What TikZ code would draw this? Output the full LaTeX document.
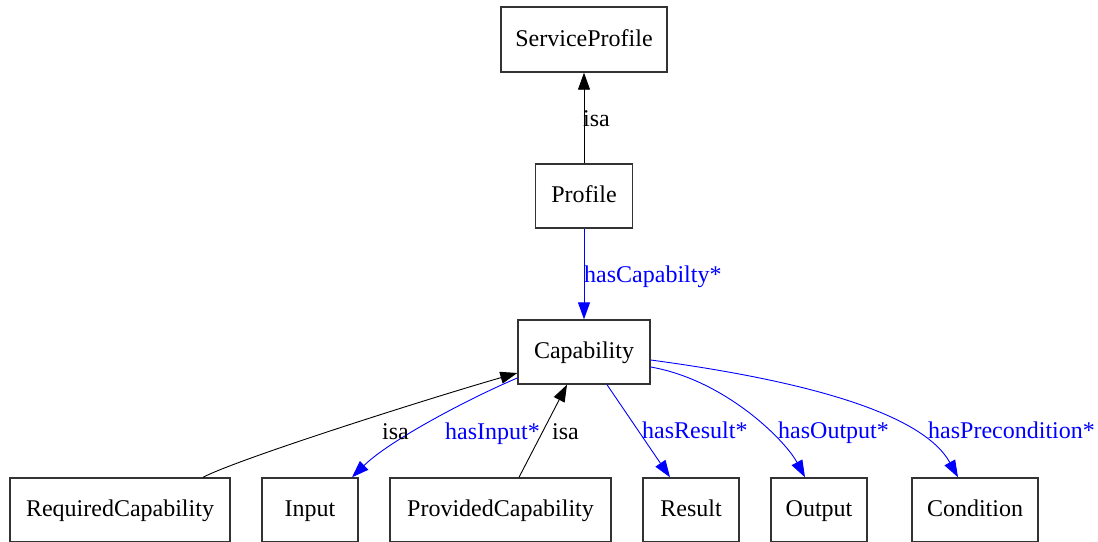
\documentclass[tikz,border=0pt]{standalone}
\usepackage{fontspec}
\setmainfont{Liberation Serif}
\usetikzlibrary{arrows.meta}
\definecolor{boxline}{HTML}{333333}
\definecolor{relblue}{RGB}{0,0,255}
\tikzset{
  cls/.style={draw=boxline, line width=1.4pt, minimum height=64pt, inner sep=0pt,
    text height=17pt, text depth=4pt, font=\fontsize{24}{28}\selectfont},
  isaedge/.style={draw=black, line width=0.9pt, -{Triangle[length=17pt,width=12pt]}},
  reledge/.style={draw=relblue, line width=0.9pt, -{Triangle[length=17pt,width=12pt]}},
  isalabel/.style={anchor=base west, inner sep=0pt, text=black, font=\fontsize{24}{28}\selectfont},
  rellabel/.style={anchor=base west, inner sep=0pt, text=relblue, font=\fontsize{24}{28}\selectfont},
}
\begin{document}
\begin{tikzpicture}[x=1pt, y=-1pt]
\useasboundingbox (0,0) rectangle (1098,541);

% classes
\node[cls, minimum width=166pt, minimum height=65pt] (sp) at (584,39.5) {ServiceProfile};
\node[cls, minimum width=97pt] (prof) at (584,196) {Profile};
\node[cls, minimum width=132pt] (cap) at (584,352) {Capability};
\node[cls, minimum width=220pt] (req) at (120,510) {RequiredCapability};
\node[cls, minimum width=96pt] (inp) at (310,510) {Input};
\node[cls, minimum width=221pt] (prov) at (500.5,510) {ProvidedCapability};
\node[cls, minimum width=96pt] (res) at (691,510) {Result};
\node[cls, minimum width=96pt] (out) at (819,510) {Output};
\node[cls, minimum width=126pt] (cond) at (975,510) {Condition};

% subclass links
\draw[isaedge] (prof.north) -- (sp.south);
\draw[isaedge] ([xshift=83pt]req.north) .. controls (240,458) and (440,395) .. ([yshift=-21pt]cap.west);
\draw[isaedge] ([xshift=18.5pt]prov.north) -- ([xshift=-17pt]cap.south);

% properties
\draw[reledge] (prof.south) -- (cap.north);
\draw[reledge] ([yshift=-26pt]cap.west) .. controls (470,398) and (390,440) .. ([xshift=42pt]inp.north);
\draw[reledge] ([xshift=23pt]cap.south) -- ([xshift=-21pt]res.north);
\draw[reledge] ([yshift=-15pt]cap.east) .. controls (725,380) and (785,440) .. ([xshift=-14pt]out.north);
\draw[reledge] ([yshift=-8pt]cap.east) .. controls (800,380) and (922,412) .. ([xshift=-17pt]cond.north);

% edge labels
\node[isalabel] (l1) at (583,126) {isa};
\node[rellabel] (l2) at (584,282) {hasCapabilty*};
\node[isalabel] (l3) at (382,439) {isa};
\node[rellabel] (l4) at (445,439) {hasInput*};
\node[isalabel] (l5) at (552,439) {isa};
\node[rellabel] (l6) at (642,438.5) {hasResult*};
\node[rellabel] (l7) at (778,438.5) {hasOutput*};
\node[rellabel] (l8) at (928,438.5) {hasPrecondition*};
\end{tikzpicture}
\end{document}
